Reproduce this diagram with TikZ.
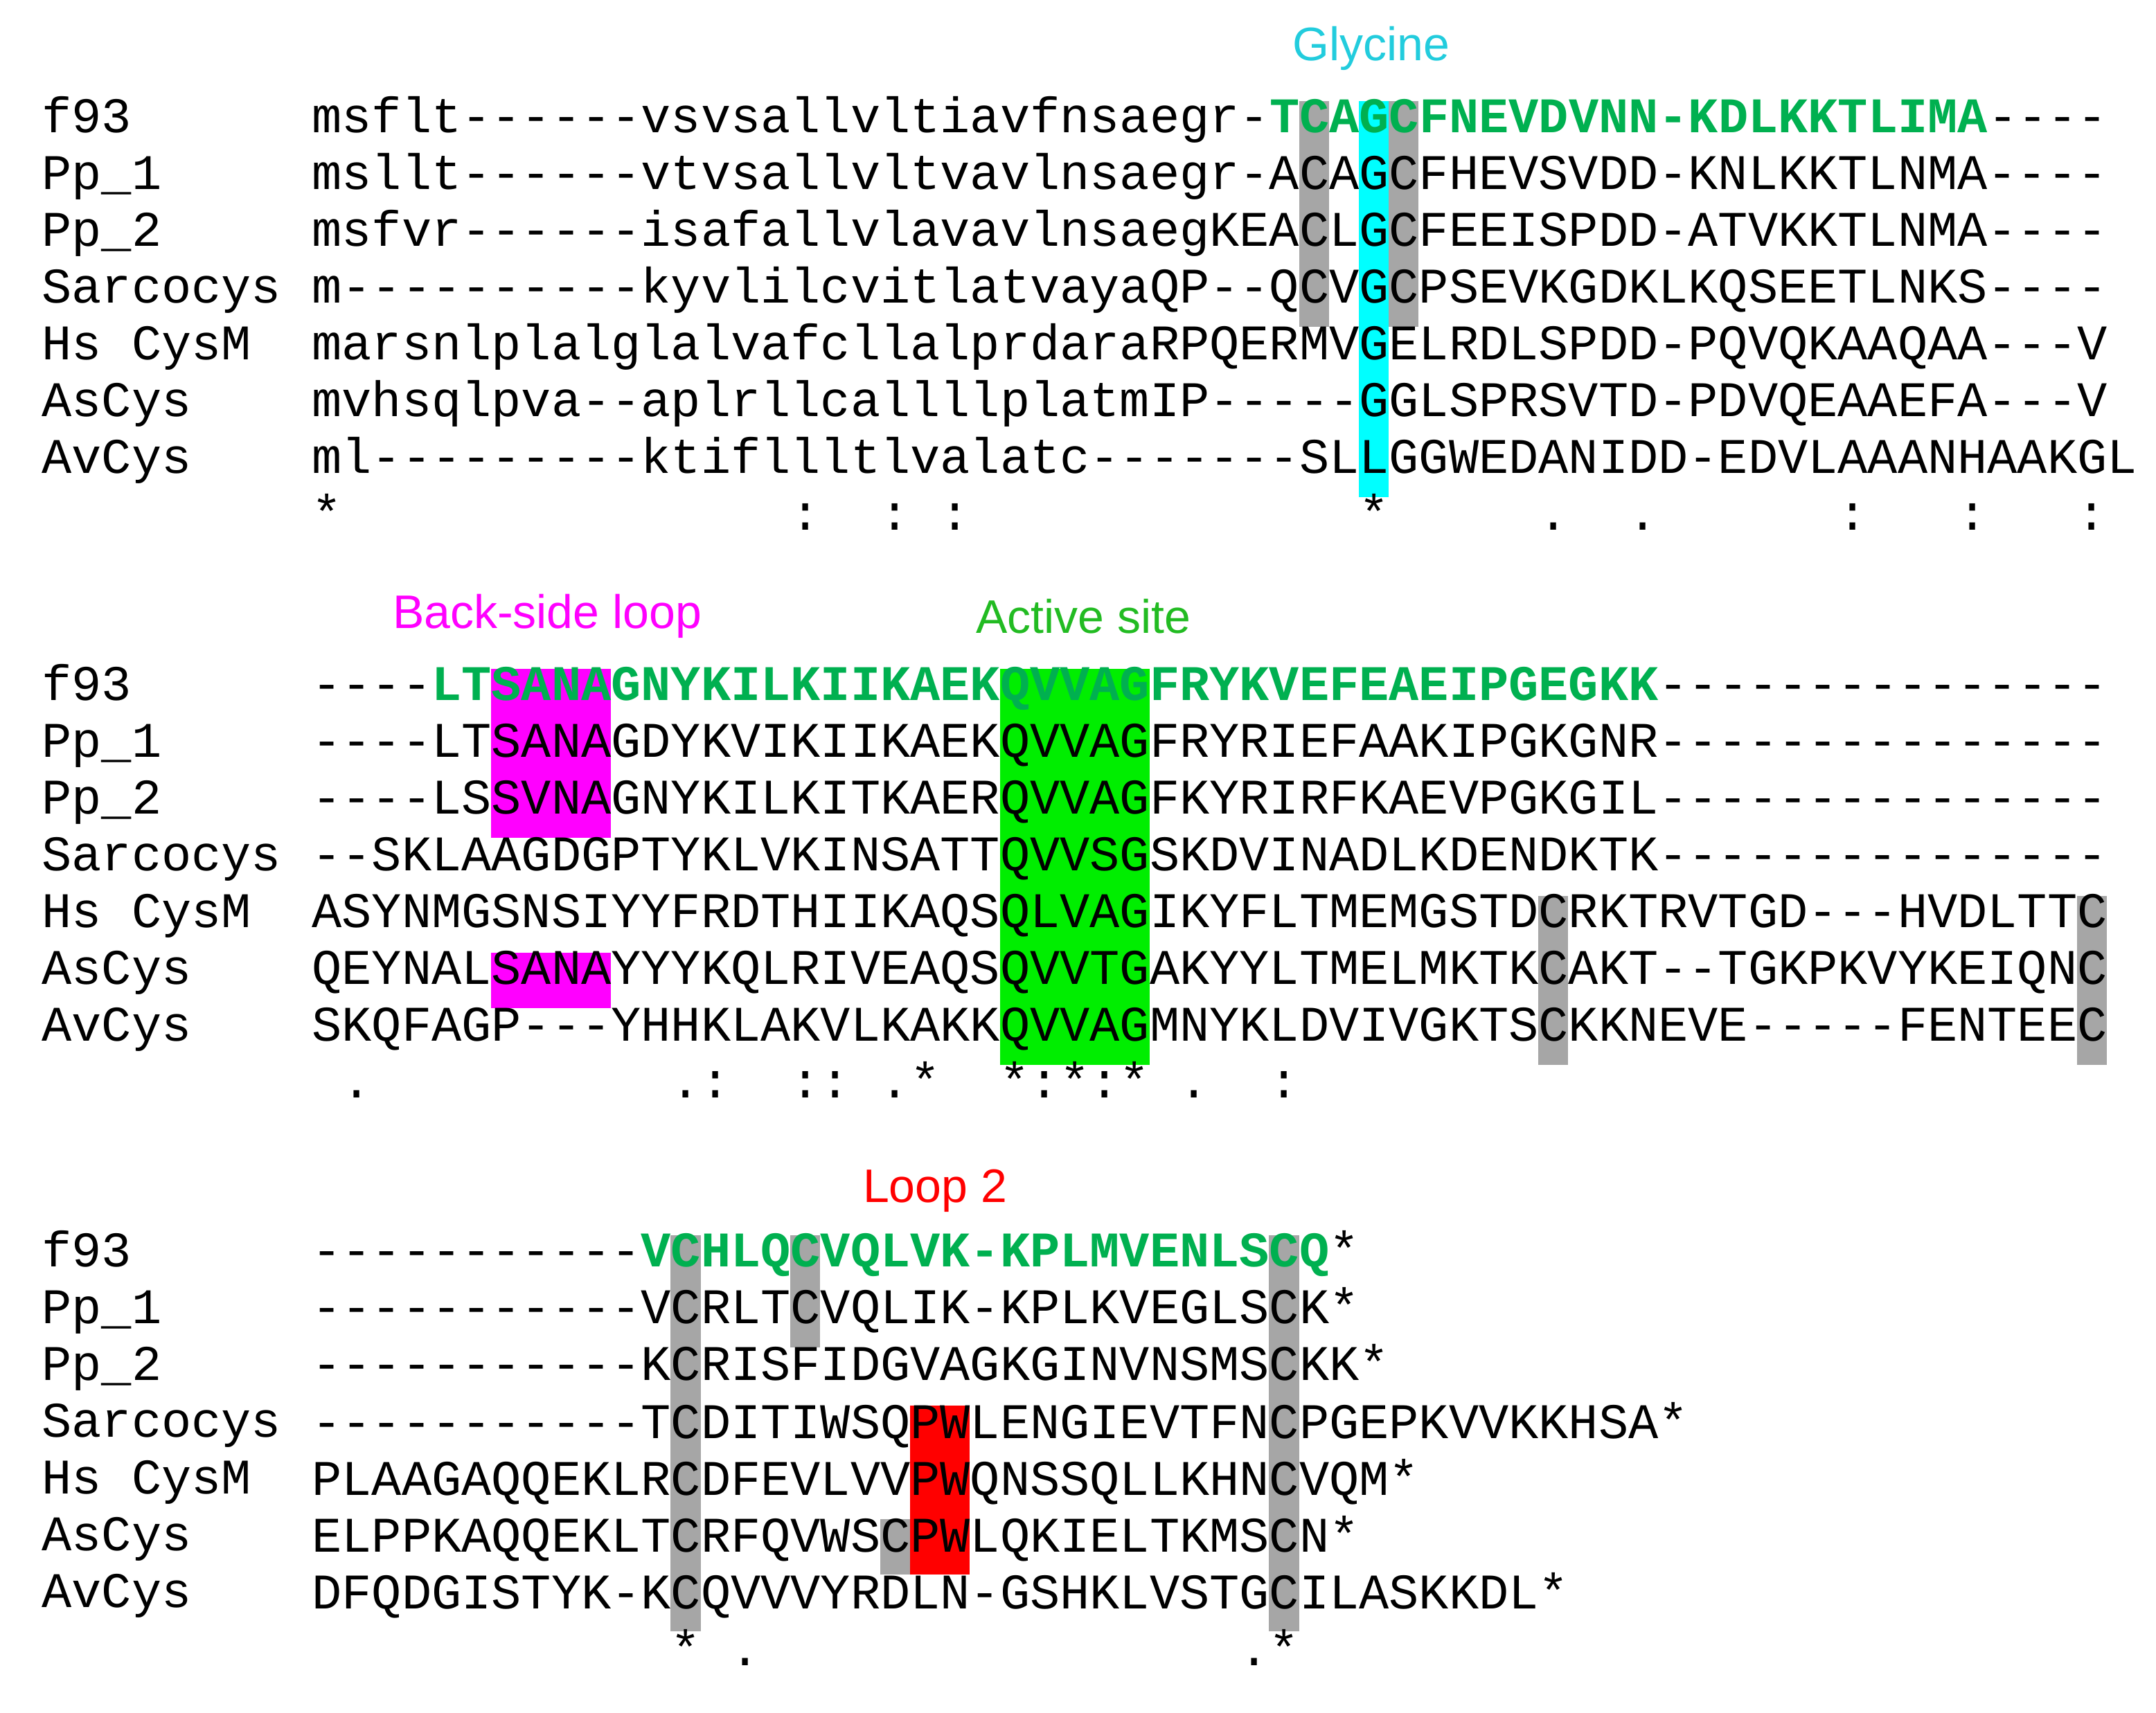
\documentclass[tikz,border=0pt]{standalone}
\usepackage{fontspec}
\setmainfont{Liberation Sans}
\newfontfamily\sq[Ligatures=TeXOff]{Liberation Mono}
\definecolor{gtxt}{HTML}{00B050}
\definecolor{gbox}{HTML}{A6A6A6}
\definecolor{cy}{HTML}{00FFFF}
\definecolor{mg}{HTML}{FF00FF}
\definecolor{gr}{HTML}{00EE00}
\definecolor{cylab}{HTML}{22CCDD}
\definecolor{grlab}{HTML}{22BB22}
\newcommand{\G}[1]{\textcolor{gtxt}{\bfseries #1}}
\begin{document}
\begin{tikzpicture}[x=1pt,y=-1pt,
  seq/.style={anchor=mid west,inner sep=0pt,font=\sq\fontsize{36}{36}\selectfont},
  lab/.style={inner sep=0pt,font=\fontsize{34}{34}\selectfont}]
\useasboundingbox (0,0) rectangle (1556.5,1236.5);
\def\cw{21.6}
% highlight boxes: col, firstrow, lastrow, color, blocktop
\newcommand{\hb}[5]{\fill[#4] ({225+#1*\cw},{#5+41*#2-20}) rectangle ({225+(#1+1)*\cw},{#5+41*#3+20});}
% block 1 (top y=93)
\hb{33}{0}{3}{gbox}{93}
\hb{36}{0}{3}{gbox}{93}
\hb{35}{0}{6}{cy}{93}
% block 2 (503)
\foreach \c in {6,...,9}{\hb{\c}{0}{2}{mg}{503}\hb{\c}{5}{5}{mg}{503}}
\foreach \c in {23,...,27}{\hb{\c}{0}{6}{gr}{503}}
\hb{41}{4}{6}{gbox}{503}
\hb{59}{4}{6}{gbox}{503}
% block 3 (912)
\hb{12}{0}{6}{gbox}{912}
\hb{16}{0}{1}{gbox}{912}
\hb{32}{0}{6}{gbox}{912}
\hb{20}{3}{5}{red}{912}
\hb{21}{3}{5}{red}{912}
\hb{19}{5}{5}{gbox}{912}
% labels
\node[lab,text=cylab] (lg) at (990,35) {Glycine};
\node[lab,text=mg] (lb) at (395,445) {Back-side loop};
\node[lab,text=grlab] (la) at (782,445) {Active site};
\node[lab,text=red] (ll) at (675,860) {Loop 2};
% names
\foreach \b in {93,503,912}{
 \foreach \n [count=\i from 0] in {f93,Pp\_1,Pp\_2,Sarcocys,Hs CysM,AsCys,AvCys}{
  \node[seq] (n\b-\i) at (30,\b+41*\i) {\n};}}
% block 1
\node[seq] (a0) at (225,93) {msflt------vsvsallvltiavfnsaegr-\G{TCAGCFNEVDVNN-KDLKKTLIMA}----};
\node[seq] (a1) at (225,134) {msllt------vtvsallvltvavlnsaegr-ACAGCFHEVSVDD-KNLKKTLNMA----};
\node[seq] (a2) at (225,175) {msfvr------isafallvlavavlnsaegKEACLGCFEEISPDD-ATVKKTLNMA----};
\node[seq] (a3) at (225,216) {m----------kyvlilcvitlatvayaQP--QCVGCPSEVKGDKLKQSEETLNKS----};
\node[seq] (a4) at (225,257) {marsnlplalglalvafcllalprdaraRPQERMVGELRDLSPDD-PQVQKAAQAA---V};
\node[seq] (a5) at (225,298) {mvhsqlpva--aplrllcallllplatmIP-----GGLSPRSVTD-PDVQEAAEFA---V};
\node[seq] (a6) at (225,339) {ml---------ktifllltlvalatc-------SLLGGWEDANIDD-EDVLAAANHAAKGL};
\foreach \c/\s in {0/*,16/:,19/:,21/:,35/*,41/.,44/.,51/:,55/:,59/:}
  \node[seq,anchor=mid] (ca\c) at ({225+(\c+0.5)*\cw},380) {\s};
% block 2
\node[seq] (b0) at (225,503) {----\G{LTSANAGNYKILKIIKAEKQVVAGFRYKVEFEAEIPGEGKK}---------------};
\node[seq] (b1) at (225,544) {----LTSANAGDYKVIKIIKAEKQVVAGFRYRIEFAAKIPGKGNR---------------};
\node[seq] (b2) at (225,585) {----LSSVNAGNYKILKITKAERQVVAGFKYRIRFKAEVPGKGIL---------------};
\node[seq] (b3) at (225,626) {--SKLAAGDGPTYKLVKINSATTQVVSGSKDVINADLKDENDKTK---------------};
\node[seq] (b4) at (225,667) {ASYNMGSNSIYYFRDTHIIKAQSQLVAGIKYFLTMEMGSTDCRKTRVTGD---HVDLTTC};
\node[seq] (b5) at (225,708) {QEYNALSANAYYYKQLRIVEAQSQVVTGAKYYLTMELMKTKCAKT--TGKPKVYKEIQNC};
\node[seq] (b6) at (225,749) {SKQFAGP---YHHKLAKVLKAKKQVVAGMNYKLDVIVGKTSCKKNEVE-----FENTEEC};
\foreach \c/\s in {1/.,12/.,13/:,16/:,17/:,19/.,20/*,23/*,24/:,25/*,26/:,27/*,29/.,32/:}
  \node[seq,anchor=mid] (cb\c) at ({225+(\c+0.5)*\cw},790) {\s};
% block 3
\node[seq] (c0) at (225,912) {-----------\G{VCHLQCVQLVK-KPLMVENLSCQ}*};
\node[seq] (c1) at (225,953) {-----------VCRLTCVQLIK-KPLKVEGLSCK*};
\node[seq] (c2) at (225,994) {-----------KCRISFIDGVAGKGINVNSMSCKK*};
\node[seq] (c3) at (225,1036) {-----------TCDITIWSQPWLENGIEVTFNCPGEPKVVKKHSA*};
\node[seq] (c4) at (225,1077) {PLAAGAQQEKLRCDFEVLVVPWQNSSQLLKHNCVQM*};
\node[seq] (c5) at (225,1118) {ELPPKAQQEKLTCRFQVWSCPWLQKIELTKMSCN*};
\node[seq] (c6) at (225,1159) {DFQDGISTYK-KCQVVVYRDLN-GSHKLVSTGCILASKKDL*};
\foreach \c/\s in {12/*,14/.,31/.,32/*}
  \node[seq,anchor=mid] (cc\c) at ({225+(\c+0.5)*\cw},1200) {\s};
\end{tikzpicture}
\end{document}
